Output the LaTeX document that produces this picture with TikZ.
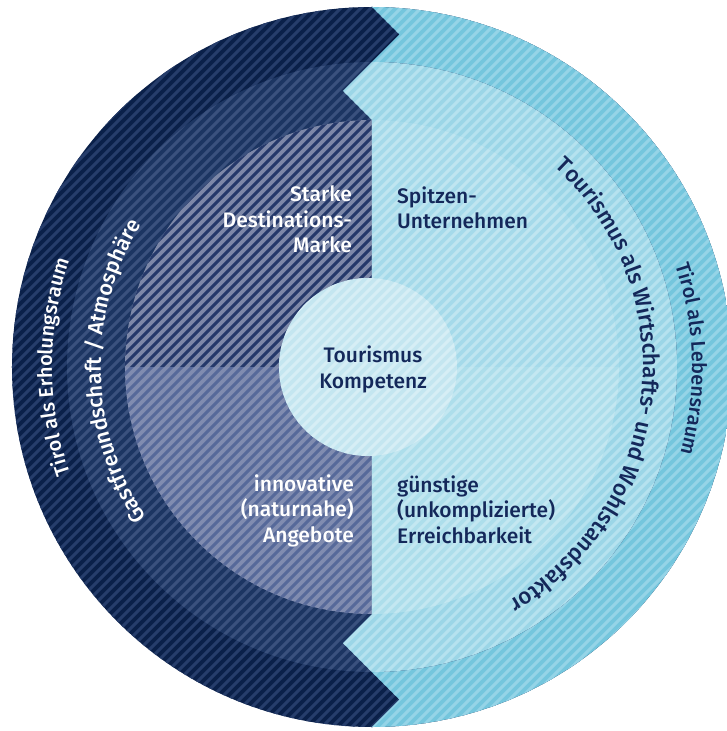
\documentclass[tikz,border=0pt]{standalone}
\usepackage{fontspec}
\setmainfont{Fira Sans}[UprightFont={* Medium}]
\usepackage{tikz}
\usetikzlibrary{decorations.text}

% base / stripe colours of the fields
\definecolor{outerL}{HTML}{0A2049}
\definecolor{outerLs}{HTML}{263D6B}
\definecolor{midL}{HTML}{1C3562}
\definecolor{midLs}{HTML}{3A517E}
\definecolor{quadUL}{HTML}{7D88A8}
\definecolor{quadULs}{HTML}{24386A}
\definecolor{quadLL}{HTML}{808CB0}
\definecolor{quadLLs}{HTML}{56699A}
\definecolor{outerR}{HTML}{74C6DD}
\definecolor{outerRs}{HTML}{95D4E7}
\definecolor{midR}{HTML}{9BD6E7}
\definecolor{midRs}{HTML}{B5E2EF}
\definecolor{quadUR}{HTML}{A5DAEA}
\definecolor{quadURs}{HTML}{BFE5F0}
\definecolor{quadLR}{HTML}{ADDEEB}
\definecolor{quadLRs}{HTML}{C3E7F1}
\definecolor{core}{HTML}{C4E6F0}
\definecolor{cores}{HTML}{D6EEF5}
\definecolor{ink}{HTML}{14285A}

% fill the clipped area and lay diagonal stripes over it
\newcommand{\hatch}[2]{%
  \fill[#1] (-400,-400) rectangle (400,400);
  \foreach \k in {-80,...,80}
    \draw[#2, line width=3pt] (\k*10-400,-400) -- ++(800,800);}

\begin{document}
\begin{tikzpicture}[
    x=1pt, y=1pt,
    every node/.style={inner sep=0pt},
    field/.style={font=\fontsize{21}{25.5}\selectfont},
    zigzag/.style={insert path={(0,400) -- (0,360) -- (27.5,332.5) -- (0,305) -- (-29,276) -- (0,247)
        -- (0,-247) -- (-29,-276) -- (0,-305) -- (27.5,-332.5) -- (0,-360) -- (0,-400)
        -- (400,-400) -- (400,400) -- cycle}},
    arclabel/.style={decorate, decoration={text along path, text align=center, text={#1}}}
]
\useasboundingbox (-372,-364) rectangle (354,367);

    % outer ring
    \begin{scope}
        \clip (0,0) circle (360);
        \hatch{outerL}{outerLs}
        \clip[zigzag];
        \hatch{outerR}{outerRs}
    \end{scope}

    % middle ring
    \begin{scope}
        \clip (0,0) circle (305);
        \hatch{midL}{midLs}
        \clip[zigzag];
        \hatch{midR}{midRs}
    \end{scope}

    % four inner fields
    \begin{scope}
        \clip (0,0) circle (247);
        \begin{scope}
            \clip (-400,0) rectangle (0,400);
            \hatch{quadUL}{quadULs}
        \end{scope}
        \begin{scope}
            \clip (-400,-400) rectangle (0,0);
            \hatch{quadLL}{quadLLs}
        \end{scope}
        \begin{scope}
            \clip (0,0) rectangle (400,400);
            \hatch{quadUR}{quadURs}
        \end{scope}
        \begin{scope}
            \clip (0,-400) rectangle (400,0);
            \hatch{quadLR}{quadLRs}
        \end{scope}
    \end{scope}

    % core
    \begin{scope}
        \clip (-4,0) circle (89);
        \hatch{core}{cores}
    \end{scope}

    % field labels (base = last line)
    \node[field, white, align=right, anchor=base east] (brand) at (-20,114) {Starke\\Destinations-\\Marke};
    \node[field, ink, align=left, anchor=base west] (firms) at (25,138) {Spitzen-\\Unternehmen};
    \node[field, white, align=right, anchor=base east] (offers) at (-18,-175) {innovative\\(naturnahe)\\Angebote};
    \node[field, ink, align=left, anchor=base west] (access) at (25,-176) {günstige\\(unkomplizierte)\\Erreichbarkeit};
    \node[field, ink, align=center, anchor=base] (core) at (1,-21) {Tourismus\\Kompetenz};

    % ring labels
    \path[arclabel={|\fontsize{20}{20}\selectfont\color{white}|Tirol als Erholungsraum}]
        (225:320) arc[start angle=225, end angle=135, radius=320];
    \path[arclabel={|\fontsize{21.5}{21.5}\selectfont\color{white}|Gastfreundschaft / Atmosphäre}]
        (251:271) arc[start angle=251, end angle=111, radius=271];
    \path[arclabel={|\fontsize{20}{20}\selectfont\color{ink}|Tirol als Lebensraum}]
        (46.5:320) arc[start angle=46.5, end angle=-43.5, radius=320];
    \path[arclabel={|\fontsize{22.5}{22.5}\selectfont\color{ink}|Tourismus als Wirtschafts- und Wohlstandsfaktor}]
        (84:271) arc[start angle=84, end angle=-96, radius=271];

\end{tikzpicture}
\end{document}
